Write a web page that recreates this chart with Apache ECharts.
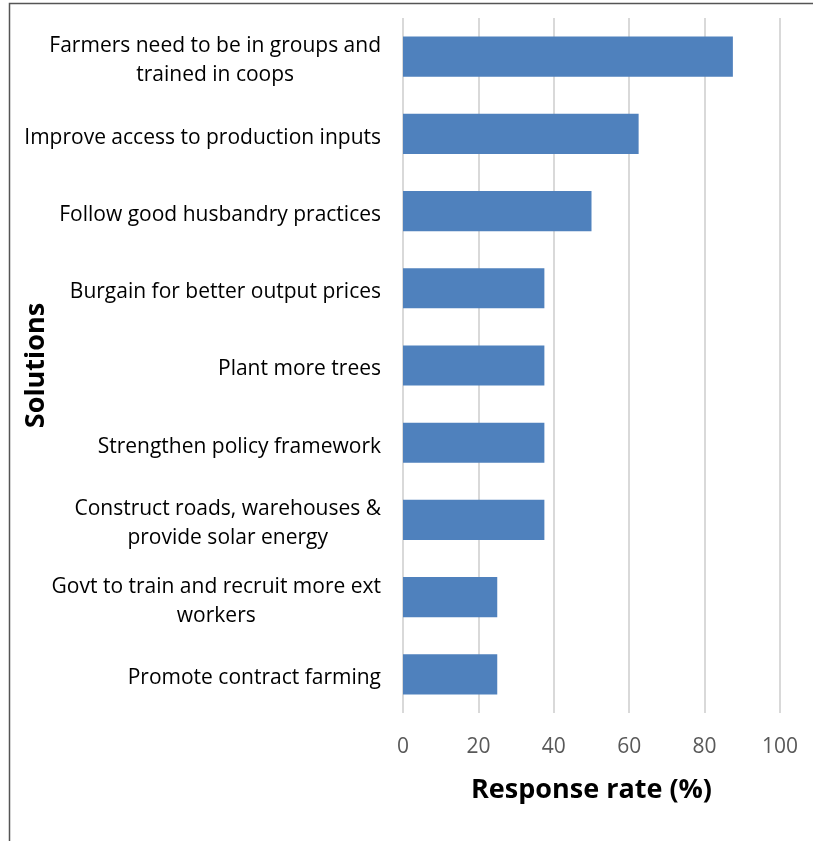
<!DOCTYPE html>
<html><head><meta charset="utf-8">
<script src="https://cdn.jsdelivr.net/npm/echarts@6/dist/echarts.min.js"></script>
<style>html,body{margin:0;padding:0;background:#fff}#c{width:813px;height:841px}</style>
</head><body><div id="c"></div>
<script>
const categories = [
  "Farmers need to be in groups and\ntrained in coops",
  "Improve access to production inputs",
  "Follow good husbandry practices",
  "Burgain for better output prices",
  "Plant more trees",
  "Strengthen policy framework",
  "Construct roads, warehouses &\nprovide solar energy",
  "Govt to train and recruit more ext\nworkers",
  "Promote contract farming"
];
const values = [87.5, 62.5, 50, 37.5, 37.5, 37.5, 37.5, 25, 25];
const xTicks = { min: 0, max: 100, interval: 20 };

const chart = echarts.init(document.getElementById('c'), null, {renderer: 'canvas'});
const FONT = 'Open Sans';
chart.setOption({
  animation: false,
  backgroundColor: '#fff',
  textStyle: { fontFamily: FONT },
  graphic: [{
    type: 'rect', silent: true,
    shape: { x: 9.5, y: 3.5, width: 820, height: 860 },
    style: { fill: 'none', stroke: '#555', lineWidth: 1.5 }
  }],
  grid: { left: 403, right: 33, top: 18, bottom: 128, containLabel: false, outerBoundsMode: 'none' },
  xAxis: {
    type: 'value', min: xTicks.min, max: xTicks.max, interval: xTicks.interval,
    name: 'Response rate (%)', nameLocation: 'middle', nameGap: 64, nameMoveOverlap: false,
    nameTextStyle: { fontFamily: FONT, fontSize: 27, fontWeight: 'bold', color: '#000' },
    axisLine: { show: false }, axisTick: { show: false },
    axisLabel: { fontFamily: FONT, fontSize: 21, color: '#595959', margin: 24 },
    splitLine: { show: true, lineStyle: { color: '#D9D9D9', width: 2 } }
  },
  yAxis: {
    type: 'category', data: categories, inverse: true,
    name: 'Solutions', nameLocation: 'middle', nameGap: 353, nameRotate: 90, nameMoveOverlap: false,
    nameTextStyle: { fontFamily: FONT, fontSize: 27, fontWeight: 'bold', color: '#000' },
    axisLine: { show: false }, axisTick: { show: false },
    axisLabel: {
      margin: 22, align: 'right',
      formatter: v => v.split('\n').map(s => '{c|' + s + '}').join('\n'),
      rich: { c: { fontFamily: FONT, fontSize: 21, color: '#000', lineHeight: 29, align: 'center', padding: [8, 0, 0, 0] } }
    },
    splitLine: { show: false }
  },
  series: [{
    type: 'bar', data: values, barCategoryGap: '48%',
    itemStyle: { color: '#4F81BD' }
  }]
});
</script></body></html>
